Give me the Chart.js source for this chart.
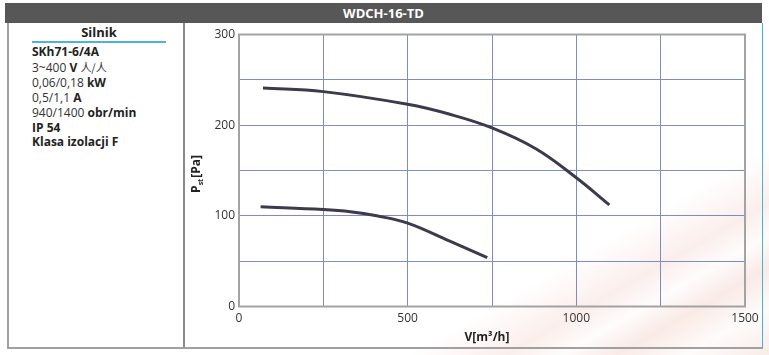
<!DOCTYPE html>
<html>
<head>
<meta charset="utf-8">
<script src="https://cdn.jsdelivr.net/npm/chart.js@4/dist/chart.umd.min.js"></script>
<style>
  html, body { margin:0; padding:0; }
  body { width:769px; height:355px; position:relative; overflow:hidden; background:#fff;
         font-family:'Open Sans', sans-serif; }
  #bg { position:absolute; left:0; top:0; width:769px; height:355px;
        background:
          linear-gradient(150deg, rgba(255,255,255,0) 74%, rgba(240,200,190,0.30) 81%, rgba(250,235,230,0.15) 85%, rgba(238,195,185,0.35) 89%, rgba(250,235,230,0.2) 94%, rgba(238,200,190,0.35) 100%);
  }
  #header { position:absolute; left:5px; top:3px; width:757px; height:20px; background:#575757;
            color:#fff; font-weight:bold; font-size:13px; line-height:20px; text-align:center; }
  #frame { position:absolute; left:7px; top:23px; width:753px; height:324px;
           border-left:2px solid #a0a0a0; border-bottom:2px solid #a0a0a0; border-right:1px solid #45b4dc; }
  #divider { position:absolute; left:183px; top:23px; width:2px; height:324px; background:#8a8a8a; }
  #panel { position:absolute; left:32px; top:24px; width:134px; font-size:12px; color:#333; }
  #panel .head { text-align:center; font-weight:bold; font-size:13px; color:#222; line-height:17px;
                 border-bottom:2px solid #4cb4dc; padding-bottom:0px; margin-bottom:2px; }
  #panel .ln { line-height:14.9px; white-space:nowrap; }
  #panel b { color:#222; }
  #panel .star { font-family:'Noto Sans CJK SC', sans-serif; font-size:11px; color:#333; }
  canvas { position:absolute; left:0; top:0; }
</style>
</head>
<body>
<div id="bg"></div>
<div id="header">WDCH-16-TD</div>
<div id="frame"></div>
<div id="divider"></div>
<div id="panel">
  <div class="head">Silnik</div>
  <div class="ln"><b>SKh71-6/4A</b></div>
  <div class="ln">3~400 <b>V</b> <span class="star">人/人</span></div>
  <div class="ln">0,06/0,18 <b>kW</b></div>
  <div class="ln">0,5/1,1 <b>A</b></div>
  <div class="ln">940/1400 <b>obr/min</b></div>
  <div class="ln"><b>IP 54</b></div>
  <div class="ln"><b>Klasa izolacji F</b></div>
</div>
<canvas id="c" width="769" height="355"></canvas>
<script>
// Curve data: airflow V [m3/h] and static pressure Pst [Pa]
const highSpeedV = [71, 250, 500, 625, 750, 880, 1000, 1098];
const highSpeedP = [241, 237, 223, 212, 197, 174, 142, 112];
const lowSpeedV = [64, 250, 330, 408, 500, 625, 736];
const lowSpeedP = [110, 107, 104.6, 100, 92, 72, 54];
const xTicks = [0, 500, 1000, 1500];
const yTicks = [0, 100, 200, 300];

const toPts = (xs, ys) => xs.map((x, i) => ({ x: x, y: ys[i] }));

const frameAndTitles = {
  id: 'frameAndTitles',
  afterDraw(chart) {
    const ctx = chart.ctx, a = chart.chartArea;
    ctx.save();
    ctx.strokeStyle = '#a3a3a3';
    ctx.lineWidth = 2;
    ctx.strokeRect(a.left, a.top, a.right - a.left, a.bottom - a.top);
    // x title
    ctx.fillStyle = '#222';
    ctx.font = "bold 12px 'Open Sans', sans-serif";
    ctx.textAlign = 'center';
    ctx.textBaseline = 'middle';
    ctx.fillText('V[m³/h]', 487, 338);
    // y title with subscript
    ctx.translate(197, 174);
    ctx.rotate(-Math.PI / 2);
    const p = 'P', sub = 'st', rest = '[Pa]';
    ctx.font = "bold 12px 'Open Sans', sans-serif";
    const wP = ctx.measureText(p).width;
    const wR = ctx.measureText(rest).width;
    ctx.font = "bold 7px 'Open Sans', sans-serif";
    const wS = ctx.measureText(sub).width;
    const total = wP + wS + 1 + wR;
    let x0 = -total / 2;
    ctx.textAlign = 'left';
    ctx.font = "bold 12px 'Open Sans', sans-serif";
    ctx.fillText(p, x0, 0);
    ctx.font = "bold 7px 'Open Sans', sans-serif";
    ctx.fillText(sub, x0 + wP, 4);
    ctx.font = "bold 12px 'Open Sans', sans-serif";
    ctx.fillText(rest, x0 + wP + wS + 1, 0);
    ctx.restore();
  }
};

new Chart(document.getElementById('c'), {
  type: 'line',
  data: {
    datasets: [
      { data: toPts(highSpeedV, highSpeedP), borderColor: '#3c3a4c', borderWidth: 3,
        pointRadius: 0, tension: 0.4, fill: false },
      { data: toPts(lowSpeedV, lowSpeedP), borderColor: '#3c3a4c', borderWidth: 3,
        pointRadius: 0, tension: 0.4, fill: false }
    ]
  },
  options: {
    responsive: false,
    devicePixelRatio: 1,
    animation: false,
    events: [],
    layout: { padding: { left: 184, top: 34.5, right: 24, bottom: 18.5 } },
    plugins: { legend: { display: false }, tooltip: { enabled: false } },
    scales: {
      x: {
        type: 'linear', min: 0, max: 1500,
        afterBuildTicks: s => { s.ticks = [0, 250, 500, 750, 1000, 1250, 1500].map(v => ({ value: v })); },
        afterFit: s => { s.height = 30; },
        grid: { color: '#7b8cc6', lineWidth: 1, drawTicks: false },
        border: { display: false },
        ticks: { padding: 5, color: '#333', font: { size: 12, family: "'Open Sans', sans-serif" },
                 maxRotation: 0, autoSkip: false,
                 callback: v => (xTicks.includes(v) ? String(v) : '') }
      },
      y: {
        type: 'linear', min: 0, max: 300,
        afterBuildTicks: s => { s.ticks = [0, 50, 100, 150, 200, 250, 300].map(v => ({ value: v })); },
        afterFit: s => { s.width = 55; },
        grid: { color: '#7b8cc6', lineWidth: 1, drawTicks: false },
        border: { display: false },
        ticks: { padding: 4, color: '#333', font: { size: 12, family: "'Open Sans', sans-serif" },
                 autoSkip: false,
                 callback: v => (yTicks.includes(v) ? String(v) : '') }
      }
    }
  },
  plugins: [frameAndTitles]
});
</script>
</body>
</html>
